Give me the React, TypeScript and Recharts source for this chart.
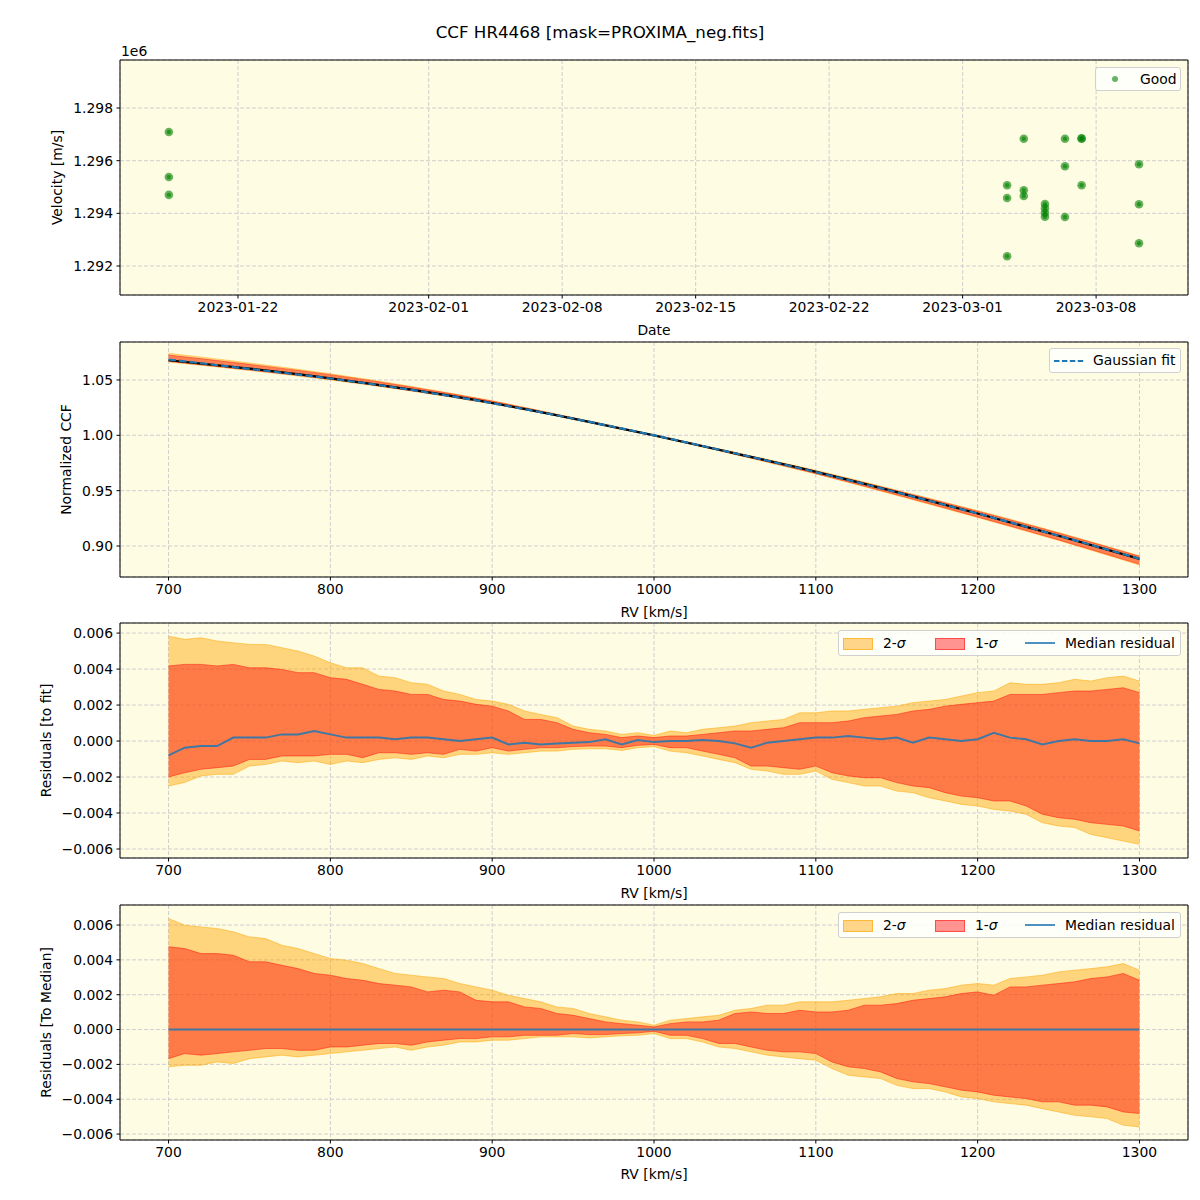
import React from 'react';
import {
  ComposedChart,
  ScatterChart,
  Scatter,
  Line,
  Area,
  XAxis,
  YAxis,
  CartesianGrid,
  ReferenceArea,
  Legend,
  Label,
} from 'recharts';

// ---------------- data ----------------
const TITLE = 'CCF HR4468 [mask=PROXIMA_neg.fits]';

// Panel 1: velocity time series
const obsDates = [
  '2023-01-18T09:00:00Z', '2023-01-18T09:00:00Z', '2023-01-18T09:00:00Z',
  '2023-03-03T08:00:00Z', '2023-03-03T08:00:00Z', '2023-03-03T08:00:00Z',
  '2023-03-04T05:00:00Z', '2023-03-04T05:00:00Z', '2023-03-04T05:00:00Z',
  '2023-03-05T07:40:00Z', '2023-03-05T07:40:00Z', '2023-03-05T07:40:00Z', '2023-03-05T07:40:00Z',
  '2023-03-06T08:50:00Z', '2023-03-06T08:50:00Z', '2023-03-06T08:50:00Z',
  '2023-03-07T05:45:00Z', '2023-03-07T05:45:00Z', '2023-03-07T05:45:00Z',
  '2023-03-10T06:00:00Z', '2023-03-10T06:00:00Z', '2023-03-10T06:00:00Z',
];
const obsVelocity = [
  1297090, 1295380, 1294700,
  1295065, 1294582, 1292368,
  1296834, 1294875, 1294658,
  1294354, 1294191, 1294024, 1293872,
  1296834, 1295786, 1293861,
  1296834, 1296850, 1295065,
  1295862, 1294343, 1292862,
];
const dateTicks = ['2023-01-22', '2023-02-01', '2023-02-08', '2023-02-15', '2023-02-22', '2023-03-01', '2023-03-08'];
const DATE_MIN = '2023-01-15T19:30:00Z';
const DATE_MAX = '2023-03-12T19:40:00Z';
const velocityTicks = [1292000, 1294000, 1296000, 1298000];
const VEL_MIN = 1290899;
const VEL_MAX = 1299823;

// Panel 2: normalized CCF
const ccfRv = [700, 750, 800, 850, 900, 950, 1000, 1050, 1100, 1150, 1200, 1250, 1300];
const ccfFit = [1.0685, 1.0600, 1.0513, 1.0410, 1.0290, 1.0152, 1.0000, 0.9838, 0.9668, 0.9485, 0.9293, 0.9093, 0.8885];
const ccfMedian = [1.0678, 1.0602, 1.0515, 1.0412, 1.0292, 1.0151, 1.0000, 0.9837, 0.9670, 0.9487, 0.9294, 0.9093, 0.8884];
const ccfHi2 = [1.0741, 1.0654, 1.0556, 1.0442, 1.0312, 1.0160, 1.0003, 0.9846, 0.9684, 0.9504, 0.9320, 0.9122, 0.8912];
const ccfHi1 = [1.0725, 1.0641, 1.0548, 1.0436, 1.0309, 1.0158, 1.0002, 0.9844, 0.9678, 0.9500, 0.9314, 0.9117, 0.8908];
const ccfLo1 = [1.0668, 1.0590, 1.0506, 1.0403, 1.0286, 1.0148, 0.9998, 0.9829, 0.9654, 0.9462, 0.9262, 0.9055, 0.8835];
const ccfLo2 = [1.0663, 1.0586, 1.0500, 1.0400, 1.0284, 1.0147, 0.9997, 0.9826, 0.9651, 0.9457, 0.9257, 0.9050, 0.8828];
const ccfTicks = [0.9, 0.95, 1.0, 1.05];

// Residual grid (RV, km/s)
const rvGrid = [
  700, 710, 720, 730, 740, 750, 760, 770, 780, 790,
  800, 810, 820, 830, 840, 850, 860, 870, 880, 890,
  900, 910, 920, 930, 940, 950, 960, 970, 980, 990,
  1000, 1010, 1020, 1030, 1040, 1050, 1060, 1070, 1080, 1090,
  1100, 1110, 1120, 1130, 1140, 1150, 1160, 1170, 1180, 1190,
  1200, 1210, 1220, 1230, 1240, 1250, 1260, 1270, 1280, 1290,
  1300,
];

// Panel 3: residuals to fit
const fitHi2 = [
  0.00583, 0.00565, 0.00574, 0.00556, 0.00546, 0.00537, 0.00537, 0.00519, 0.00500, 0.00472,
  0.00435, 0.00407, 0.00407, 0.00361, 0.00352, 0.00324, 0.00315, 0.00278, 0.00259, 0.00231,
  0.00222, 0.00204, 0.00167, 0.00148, 0.00130, 0.00083, 0.00065, 0.00056, 0.00037, 0.00046,
  0.00031, 0.00056, 0.00046, 0.00065, 0.00074, 0.00083, 0.00102, 0.00111, 0.00120, 0.00157,
  0.00157, 0.00167, 0.00167, 0.00176, 0.00185, 0.00194, 0.00213, 0.00222, 0.00231, 0.00250,
  0.00269, 0.00278, 0.00324, 0.00315, 0.00315, 0.00324, 0.00343, 0.00333, 0.00352, 0.00361,
  0.00333,
];
const fitHi1 = [
  0.00417, 0.00426, 0.00426, 0.00417, 0.00426, 0.00407, 0.00407, 0.00398, 0.00380, 0.00380,
  0.00352, 0.00343, 0.00315, 0.00287, 0.00278, 0.00259, 0.00259, 0.00231, 0.00222, 0.00204,
  0.00194, 0.00167, 0.00120, 0.00120, 0.00102, 0.00065, 0.00046, 0.00037, 0.00019, 0.00028,
  0.00019, 0.00028, 0.00028, 0.00037, 0.00046, 0.00056, 0.00056, 0.00065, 0.00074, 0.00102,
  0.00102, 0.00102, 0.00111, 0.00130, 0.00139, 0.00148, 0.00167, 0.00176, 0.00194, 0.00204,
  0.00213, 0.00222, 0.00259, 0.00259, 0.00259, 0.00269, 0.00278, 0.00278, 0.00287, 0.00296,
  0.00269,
];
const fitMedian = [
  -0.00080, -0.00037, -0.00028, -0.00028, 0.00019, 0.00019, 0.00019, 0.00037, 0.00037, 0.00056,
  0.00037, 0.00019, 0.00019, 0.00019, 0.00010, 0.00019, 0.00019, 0.00010, 0.00000, 0.00010,
  0.00019, -0.00019, -0.00009, -0.00019, -0.00013, -0.00009, -0.00006, 0.00010, -0.00019, 0.00006,
  -0.00006, 0.00000, 0.00000, 0.00006, 0.00000, -0.00013, -0.00037, -0.00009, 0.00000, 0.00010,
  0.00019, 0.00019, 0.00028, 0.00019, 0.00010, 0.00019, -0.00009, 0.00019, 0.00010, 0.00000,
  0.00010, 0.00046, 0.00019, 0.00010, -0.00019, 0.00000, 0.00010, 0.00000, 0.00000, 0.00010,
  -0.00013,
];
const fitLo1 = [
  -0.00200, -0.00176, -0.00157, -0.00148, -0.00139, -0.00102, -0.00102, -0.00083, -0.00083, -0.00083,
  -0.00074, -0.00074, -0.00093, -0.00065, -0.00065, -0.00074, -0.00065, -0.00074, -0.00046, -0.00056,
  -0.00037, -0.00056, -0.00046, -0.00037, -0.00037, -0.00031, -0.00028, -0.00028, -0.00037, -0.00024,
  -0.00019, -0.00037, -0.00037, -0.00056, -0.00074, -0.00093, -0.00139, -0.00139, -0.00148, -0.00157,
  -0.00139, -0.00176, -0.00194, -0.00204, -0.00204, -0.00231, -0.00250, -0.00259, -0.00287, -0.00306,
  -0.00315, -0.00333, -0.00333, -0.00361, -0.00407, -0.00426, -0.00435, -0.00454, -0.00463, -0.00472,
  -0.00500,
];
const fitLo2 = [
  -0.00250, -0.00230, -0.00194, -0.00185, -0.00185, -0.00139, -0.00130, -0.00111, -0.00120, -0.00111,
  -0.00130, -0.00111, -0.00120, -0.00102, -0.00093, -0.00102, -0.00083, -0.00093, -0.00074, -0.00074,
  -0.00065, -0.00074, -0.00065, -0.00056, -0.00056, -0.00046, -0.00043, -0.00043, -0.00052, -0.00037,
  -0.00031, -0.00056, -0.00065, -0.00083, -0.00102, -0.00120, -0.00157, -0.00167, -0.00185, -0.00185,
  -0.00167, -0.00213, -0.00231, -0.00250, -0.00250, -0.00278, -0.00287, -0.00315, -0.00333, -0.00352,
  -0.00361, -0.00380, -0.00389, -0.00407, -0.00454, -0.00472, -0.00481, -0.00519, -0.00537, -0.00556,
  -0.00574,
];

// Panel 4: residuals to median
const medHi2 = [
  0.00637, 0.00599, 0.00589, 0.00580, 0.00561, 0.00532, 0.00522, 0.00484, 0.00465, 0.00436,
  0.00408, 0.00398, 0.00379, 0.00350, 0.00322, 0.00312, 0.00302, 0.00293, 0.00264, 0.00245,
  0.00226, 0.00197, 0.00178, 0.00159, 0.00130, 0.00121, 0.00092, 0.00073, 0.00054, 0.00044,
  0.00025, 0.00054, 0.00063, 0.00073, 0.00082, 0.00111, 0.00121, 0.00140, 0.00140, 0.00159,
  0.00159, 0.00159, 0.00168, 0.00178, 0.00188, 0.00207, 0.00207, 0.00226, 0.00235, 0.00255,
  0.00264, 0.00255, 0.00293, 0.00302, 0.00312, 0.00331, 0.00341, 0.00350, 0.00360, 0.00379,
  0.00341,
];
const medHi1 = [
  0.00475, 0.00465, 0.00436, 0.00436, 0.00427, 0.00389, 0.00389, 0.00369, 0.00350, 0.00322,
  0.00312, 0.00293, 0.00283, 0.00264, 0.00255, 0.00245, 0.00216, 0.00226, 0.00216, 0.00168,
  0.00159, 0.00159, 0.00130, 0.00121, 0.00092, 0.00082, 0.00063, 0.00044, 0.00034, 0.00025,
  0.00015, 0.00034, 0.00044, 0.00044, 0.00054, 0.00092, 0.00101, 0.00092, 0.00092, 0.00111,
  0.00101, 0.00101, 0.00111, 0.00140, 0.00140, 0.00149, 0.00168, 0.00178, 0.00188, 0.00207,
  0.00216, 0.00197, 0.00245, 0.00245, 0.00255, 0.00264, 0.00274, 0.00293, 0.00302, 0.00322,
  0.00283,
];
const medMedian = [
  0, 0, 0, 0, 0, 0, 0, 0, 0, 0,
  0, 0, 0, 0, 0, 0, 0, 0, 0, 0,
  0, 0, 0, 0, 0, 0, 0, 0, 0, 0,
  0, 0, 0, 0, 0, 0, 0, 0, 0, 0,
  0, 0, 0, 0, 0, 0, 0, 0, 0, 0,
  0, 0, 0, 0, 0, 0, 0, 0, 0, 0,
  0,
];
const medLo1 = [
  -0.00167, -0.00138, -0.00147, -0.00138, -0.00128, -0.00119, -0.00109, -0.00109, -0.00119, -0.00119,
  -0.00100, -0.00100, -0.00090, -0.00080, -0.00080, -0.00090, -0.00071, -0.00061, -0.00052, -0.00052,
  -0.00042, -0.00042, -0.00033, -0.00033, -0.00033, -0.00023, -0.00029, -0.00029, -0.00023, -0.00019,
  -0.00010, -0.00033, -0.00033, -0.00052, -0.00080, -0.00080, -0.00100, -0.00119, -0.00128, -0.00128,
  -0.00138, -0.00186, -0.00214, -0.00224, -0.00243, -0.00281, -0.00300, -0.00310, -0.00329, -0.00348,
  -0.00358, -0.00377, -0.00387, -0.00396, -0.00415, -0.00415, -0.00434, -0.00434, -0.00444, -0.00473,
  -0.00482,
];
const medLo2 = [
  -0.00214, -0.00205, -0.00205, -0.00186, -0.00195, -0.00167, -0.00157, -0.00147, -0.00157, -0.00147,
  -0.00138, -0.00128, -0.00119, -0.00109, -0.00100, -0.00119, -0.00100, -0.00090, -0.00071, -0.00071,
  -0.00061, -0.00061, -0.00052, -0.00042, -0.00042, -0.00042, -0.00048, -0.00042, -0.00036, -0.00033,
  -0.00023, -0.00052, -0.00052, -0.00071, -0.00100, -0.00109, -0.00128, -0.00147, -0.00157, -0.00167,
  -0.00176, -0.00224, -0.00262, -0.00272, -0.00281, -0.00320, -0.00339, -0.00339, -0.00358, -0.00387,
  -0.00396, -0.00415, -0.00425, -0.00434, -0.00454, -0.00473, -0.00492, -0.00501, -0.00511, -0.00549,
  -0.00559,
];

const rvTicks = [700, 800, 900, 1000, 1100, 1200, 1300];
const residualTicks = [-0.006, -0.004, -0.002, 0, 0.002, 0.004, 0.006];

// ---------------- style ----------------
const FONT = "'DejaVu Sans', sans-serif";
const FS = 13.9;
const BG = '#fefce3';
const GRID = '#cfcfcf';
const TAB_BLUE = '#1f77b4';
const W = 1200;
const MARGIN_RIGHT = 12;
const YW = 120;

// ---------------- derived tables ----------------
const obsData = obsDates.map((d, i) => ({ t: Date.parse(d), v: obsVelocity[i] }));
const dateTickValues = dateTicks.map((d) => Date.parse(d + 'T00:00:00Z'));
const ccfTable = ccfRv.map((rv, i) => ({
  rv,
  fit: ccfFit[i],
  median: ccfMedian[i],
  band2: [ccfLo2[i], ccfHi2[i]],
  band1: [ccfLo1[i], ccfHi1[i]],
}));
const fitTable = rvGrid.map((rv, i) => ({
  rv,
  band2: [fitLo2[i], fitHi2[i]],
  band1: [fitLo1[i], fitHi1[i]],
  median: fitMedian[i],
}));
const medTable = rvGrid.map((rv, i) => ({
  rv,
  band2: [medLo2[i], medHi2[i]],
  band1: [medLo1[i], medHi1[i]],
  median: medMedian[i],
}));

const tickStyle = { fill: '#000', fontSize: FS, fontFamily: FONT };
const fmtResidual = (v: number) => {
  const s = Math.abs(v).toFixed(3);
  return v < -1e-12 ? '\u2212' + s : s;
};

// ---------------- helpers ----------------
const xLabel = (text: string, y: number) => () => (
  <text x={(YW + W - MARGIN_RIGHT) / 2} y={y} textAnchor="middle" dominantBaseline="central"
    fontFamily={FONT} fontSize={FS} fill="#000">{text}</text>
);
const yLabel = (text: string, x: number, cy: number, extra?: React.ReactNode) => () => (
  <g>
    <text x={x} y={cy} textAnchor="middle" dominantBaseline="central" transform={`rotate(-90 ${x} ${cy})`}
      fontFamily={FONT} fontSize={FS} fill="#000">{text}</text>
    {extra}
  </g>
);

const legendBoxStyle = (w: number, h: number): React.CSSProperties => ({
  position: 'relative', width: w, height: h, boxSizing: 'border-box',
  background: 'rgba(255,255,255,0.8)', border: '1px solid #d0d0d0', borderRadius: 3,
  fontFamily: FONT, fontSize: FS, color: '#000',
});
const abs = (left: number, top: number, extra: React.CSSProperties = {}): React.CSSProperties => ({
  position: 'absolute', left, top, ...extra,
});

const SigmaLegend = () => (
  <div style={legendBoxStyle(343, 26)}>
    <div style={abs(4, 7, { width: 28, height: 10, background: 'rgba(255,165,0,0.45)', border: '1px solid rgba(255,165,0,0.6)' })} />
    <div style={abs(44, 0, { lineHeight: '24px', whiteSpace: 'nowrap' })}>2-<i>σ</i></div>
    <div style={abs(96, 7, { width: 28, height: 10, background: 'rgba(255,0,0,0.42)', border: '1px solid rgba(255,0,0,0.5)' })} />
    <div style={abs(136, 0, { lineHeight: '24px', whiteSpace: 'nowrap' })}>1-<i>σ</i></div>
    <div style={abs(186, 11, { width: 30, height: 2, background: TAB_BLUE, opacity: 0.8 })} />
    <div style={abs(226, 0, { lineHeight: '24px', whiteSpace: 'nowrap' })}>Median residual</div>
  </div>
);
const GoodLegend = () => (
  <div style={legendBoxStyle(86, 24)}>
    <div style={abs(16, 8, { width: 6, height: 6, borderRadius: 3, background: 'rgba(0,128,0,0.6)' })} />
    <div style={abs(44, 0, { lineHeight: '22px' })}>Good</div>
  </div>
);
const FitLegend = () => (
  <div style={legendBoxStyle(132, 25)}>
    <svg style={abs(4, 10)} width={30} height={4}>
      <line x1={0} y1={2} x2={30} y2={2} stroke={TAB_BLUE} strokeWidth={2} strokeDasharray="5.5 2.4" />
    </svg>
    <div style={abs(43, 0, { lineHeight: '23px', whiteSpace: 'nowrap' })}>Gaussian fit</div>
  </div>
);

const DotShape = (props: any) => {
  const { cx, cy } = props;
  if (cx == null || cy == null) return <g />;
  return (
    <g>
      <circle cx={cx} cy={cy} r={4.3} fill="green" fillOpacity={0.6} />
      <circle cx={cx} cy={cy} r={2.2} fill="green" fillOpacity={0.6} />
    </g>
  );
};

// ---------------- panels ----------------
const PLOT_H = 235;

function VelocityPanel() {
  const T = 0, mt = 60, H = 345;
  return (
    <div style={{ position: 'absolute', left: 0, top: T }}>
      <ScatterChart width={W} height={H} margin={{ top: mt, right: MARGIN_RIGHT, bottom: 0, left: 0 }}>
        <CartesianGrid stroke={GRID} strokeDasharray="4 2" fill={BG} fillOpacity={1} />
        <XAxis type="number" dataKey="t" domain={[Date.parse(DATE_MIN), Date.parse(DATE_MAX)]} allowDataOverflow
          ticks={dateTickValues} interval={0} height={H - mt - PLOT_H}
          tickFormatter={(ms: number) => new Date(ms).toISOString().slice(0, 10)}
          tick={tickStyle} tickSize={3.5} tickMargin={3.5} axisLine={false} tickLine={{ stroke: '#000' }}>
          <Label content={xLabel('Date', 330 - T)} />
        </XAxis>
        <YAxis type="number" dataKey="v" domain={[VEL_MIN, VEL_MAX]} allowDataOverflow ticks={velocityTicks} interval={0}
          width={YW} tickFormatter={(v: number) => (v / 1e6).toFixed(3)}
          tick={tickStyle} tickSize={3.5} tickMargin={3.5} axisLine={false} tickLine={{ stroke: '#000' }}>
          <Label content={yLabel('Velocity [m/s]', 57, mt + PLOT_H / 2,
            <text x={121} y={51} textAnchor="start" dominantBaseline="central" fontFamily={FONT} fontSize={FS} fill="#000">1e6</text>)} />
        </YAxis>
        <Scatter data={obsData} shape={DotShape} isAnimationActive={false} name="Good" />
        <ReferenceArea x1={Date.parse(DATE_MIN)} x2={Date.parse(DATE_MAX)} y1={VEL_MIN} y2={VEL_MAX}
          fill="none" stroke="#000" strokeWidth={1} ifOverflow="visible" />
        <Legend layout="horizontal" verticalAlign="middle" align="center"
          wrapperStyle={{ top: 67 - T, left: 1095, width: 86, height: 24 }} content={() => <GoodLegend />} />
      </ScatterChart>
    </div>
  );
}

function CcfPanel() {
  const T = 332, mt = 10, H = 290;
  return (
    <div style={{ position: 'absolute', left: 0, top: T }}>
      <ComposedChart width={W} height={H} data={ccfTable} margin={{ top: mt, right: MARGIN_RIGHT, bottom: 0, left: 0 }}>
        <CartesianGrid stroke={GRID} strokeDasharray="4 2" fill={BG} fillOpacity={1} />
        <XAxis type="number" dataKey="rv" domain={[670, 1330]} allowDataOverflow ticks={rvTicks} interval={0}
          height={H - mt - PLOT_H} tick={tickStyle} tickSize={3.5} tickMargin={3.5} axisLine={false} tickLine={{ stroke: '#000' }}>
          <Label content={xLabel('RV [km/s]', 612 - T)} />
        </XAxis>
        <YAxis type="number" domain={[0.872, 1.0843]} allowDataOverflow ticks={ccfTicks} interval={0} width={YW}
          tickFormatter={(v: number) => v.toFixed(2)}
          tick={tickStyle} tickSize={3.5} tickMargin={3.5} axisLine={false} tickLine={{ stroke: '#000' }}>
          <Label content={yLabel('Normalized CCF', 66, mt + PLOT_H / 2)} />
        </YAxis>
        <Area dataKey="band2" type="monotone" fill="orange" fillOpacity={0.4} stroke="orange" strokeOpacity={0.4}
          strokeWidth={1} isAnimationActive={false} dot={false} activeDot={false} />
        <Area dataKey="band1" type="monotone" fill="red" fillOpacity={0.4} stroke="red" strokeOpacity={0.4}
          strokeWidth={1} isAnimationActive={false} dot={false} activeDot={false} />
        <Line dataKey="median" type="monotone" stroke="#000" strokeWidth={2.2} dot={false} isAnimationActive={false} />
        <Line dataKey="fit" type="monotone" stroke={TAB_BLUE} strokeWidth={2.2} strokeDasharray="7.4 3.2" dot={false}
          isAnimationActive={false} />
        <ReferenceArea x1={670} x2={1330} y1={0.872} y2={1.0843} fill="none" stroke="#000" strokeWidth={1} ifOverflow="visible" />
        <Legend layout="horizontal" verticalAlign="middle" align="center"
          wrapperStyle={{ top: 348 - T, left: 1049, width: 132, height: 25 }} content={() => <FitLegend />} />
      </ComposedChart>
    </div>
  );
}

function ResidualPanel(props: { T: number; H: number; table: any[]; domain: [number, number]; label: string; labelY: number; legendTop: number }) {
  const { T, H, table, domain, label, labelY, legendTop } = props;
  const mt = 10;
  return (
    <div style={{ position: 'absolute', left: 0, top: T }}>
      <ComposedChart width={W} height={H} data={table} margin={{ top: mt, right: MARGIN_RIGHT, bottom: 0, left: 0 }}>
        <CartesianGrid stroke={GRID} strokeDasharray="4 2" fill={BG} fillOpacity={1} />
        <XAxis type="number" dataKey="rv" domain={[670, 1330]} allowDataOverflow ticks={rvTicks} interval={0}
          height={H - mt - PLOT_H} tick={tickStyle} tickSize={3.5} tickMargin={3.5} axisLine={false} tickLine={{ stroke: '#000' }}>
          <Label content={xLabel('RV [km/s]', labelY - T)} />
        </XAxis>
        <YAxis type="number" domain={domain} allowDataOverflow ticks={residualTicks} interval={0} width={YW}
          tickFormatter={fmtResidual}
          tick={tickStyle} tickSize={3.5} tickMargin={3.5} axisLine={false} tickLine={{ stroke: '#000' }}>
          <Label content={yLabel(label, 46, mt + PLOT_H / 2)} />
        </YAxis>
        <Area dataKey="band2" type="linear" fill="orange" fillOpacity={0.45} stroke="orange" strokeOpacity={0.5}
          strokeWidth={1} isAnimationActive={false} dot={false} activeDot={false} />
        <Area dataKey="band1" type="linear" fill="red" fillOpacity={0.42} stroke="red" strokeOpacity={0.45}
          strokeWidth={1} isAnimationActive={false} dot={false} activeDot={false} />
        <Line dataKey="median" type="linear" stroke={TAB_BLUE} strokeOpacity={0.85} strokeWidth={2} dot={false}
          isAnimationActive={false} />
        <ReferenceArea x1={670} x2={1330} y1={domain[0]} y2={domain[1]} fill="none" stroke="#000" strokeWidth={1} ifOverflow="visible" />
        <Legend layout="horizontal" verticalAlign="middle" align="center"
          wrapperStyle={{ top: legendTop - T, left: 838, width: 343, height: 26 }} content={() => <SigmaLegend />} />
      </ComposedChart>
    </div>
  );
}

export default function App() {
  return (
    <div style={{ position: 'absolute', left: 0, top: 0, width: 1200, height: 1200, background: '#fff', fontFamily: FONT }}>
      <div style={{ position: 'absolute', left: 0, top: 22, width: 1200, height: 20, lineHeight: '20px', textAlign: 'center', fontSize: 16.7, color: '#000' }}>
        {TITLE}
      </div>
      <VelocityPanel />
      <CcfPanel />
      <ResidualPanel T={613} H={290} table={fitTable} domain={[-0.0065, 0.00656]} label="Residuals [to fit]" labelY={893} legendTop={630} />
      <ResidualPanel T={895} H={300} table={medTable} domain={[-0.00634, 0.00715]} label="Residuals [To Median]" labelY={1174} legendTop={912} />
    </div>
  );
}
